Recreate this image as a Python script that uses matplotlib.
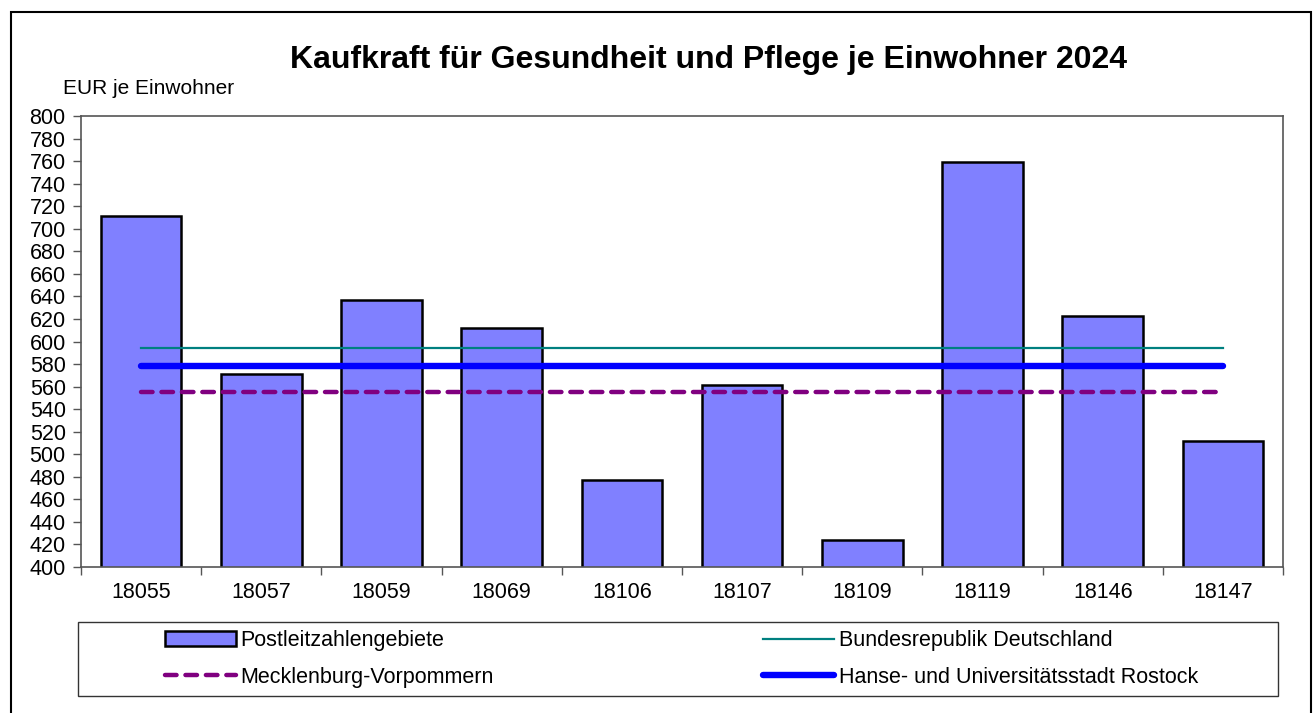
import numpy as np
import matplotlib
matplotlib.use("Agg")
import matplotlib.pyplot as plt
from matplotlib.patches import Rectangle

plt.rcParams['font.family'] = ['Liberation Sans', 'DejaVu Sans']

# Data
plz = ['18055', '18057', '18059', '18069', '18106', '18107', '18109', '18119', '18146', '18147']
werte = [711, 571, 637, 612, 477, 561, 424, 759, 623, 512]
brd = 594   # Bundesrepublik Deutschland
mv = 555    # Mecklenburg-Vorpommern
hro = 578   # Hanse- und Universitätsstadt Rostock

W, H = 1314, 713
fig = plt.figure(figsize=(W / 100, H / 100), dpi=100)
ax = fig.add_axes([81 / W, 1 - 567 / H, (1283 - 81) / W, (567 - 116) / H])

x = np.arange(len(plz))
bars = ax.bar(x, werte, width=0.67, color='#8080FF', edgecolor='black',
              linewidth=1.8, label='Postleitzahlengebiete', zorder=2)

l_brd, = ax.plot([x[0], x[-1]], [brd, brd], color='#008080', lw=1.6,
                 label='Bundesrepublik Deutschland', zorder=3)
l_hro, = ax.plot([x[0], x[-1]], [hro, hro], color='#0000FF', lw=4.6,
                 solid_capstyle='round', label='Hanse- und Universitätsstadt Rostock', zorder=3)
l_mv, = ax.plot([x[0], x[-1]], [mv, mv], color='#800080', lw=3.2,
                dashes=(2.6, 2.0), dash_capstyle='round',
                label='Mecklenburg-Vorpommern', zorder=3)

ax.set_xlim(-0.5, len(plz) - 0.5)
ax.set_ylim(400, 800)
ax.set_yticks(np.arange(400, 801, 20))
ax.set_xticks(x)
ax.set_xticklabels(plz)
ax.set_xticks(np.arange(-0.5, len(plz), 1), minor=True)
ax.tick_params(axis='x', which='major', length=0, labelsize=15.5, pad=11)
ax.tick_params(axis='x', which='minor', length=6, width=1, color='#555555', direction='out')
ax.tick_params(axis='y', length=6, width=1, color='#555555', labelsize=15.5, pad=5)
for s in ax.spines.values():
    s.set_color('#555555')
    s.set_linewidth(1.2)

fig.text(709 / W, 1 - 60 / H, 'Kaufkraft für Gesundheit und Pflege je Einwohner 2024',
         ha='center', va='center', fontsize=23, fontweight='bold')
fig.text(63 / W, 1 - 89 / H, 'EUR je Einwohner', ha='left', va='center', fontsize=15)

# legend box
fig.patches.append(Rectangle((78 / W, 1 - 696 / H), (1278 - 78) / W, (696 - 622) / H,
                             transform=fig.transFigure, fill=False, edgecolor='#333333', lw=1.0))
leg = fig.legend([bars, l_mv, l_brd, l_hro],
                 ['Postleitzahlengebiete', 'Mecklenburg-Vorpommern',
                  'Bundesrepublik Deutschland', 'Hanse- und Universitätsstadt Rostock'],
                 loc='center', ncol=2, mode='expand', frameon=False,
                 bbox_to_anchor=(165 / W, 1 - 696 / H, (1198 - 165) / W, (696 - 622) / H),
                 fontsize=15.5, handlelength=3.3, handletextpad=0.2, labelspacing=0.7,
                 borderpad=0, borderaxespad=0)

# outer frame
fig.patches.append(Rectangle((11 / W, -0.02), (1311 - 11) / W, 1 - 12 / H + 0.02,
                             transform=fig.transFigure, fill=False, edgecolor='black', lw=1.5))

fig.savefig('out.png', dpi=100, facecolor='white')
